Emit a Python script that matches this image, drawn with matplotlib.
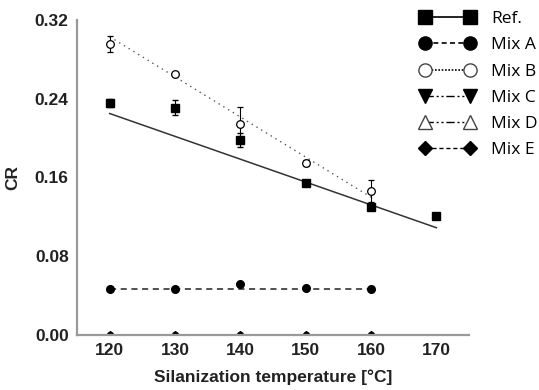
import matplotlib
matplotlib.use("Agg")
import matplotlib.pyplot as plt
from matplotlib.lines import Line2D

temps = [120, 130, 140, 150, 160]
ref_x = [120, 130, 140, 150, 160, 170]
ref_y = [0.236, 0.231, 0.198, 0.154, 0.130, 0.121]
ref_err = [0.004, 0.008, 0.007, 0.002, 0.003, 0.0]
ref_fit_x = [120, 170]
ref_fit_y = [0.225, 0.109]

mixA_y = [0.047, 0.047, 0.052, 0.048, 0.047]
mixA_err = [0.001, 0.001, 0.001, 0.001, 0.001]
mixA_fit_y = [0.047, 0.047]

mixB_y = [0.296, 0.265, 0.2145, 0.1745, 0.146]
mixB_err = [0.008, 0.002, 0.017, 0.003, 0.011]
mixB_fit_y = [0.303, 0.140]

mixC_y = [0, 0, 0, 0, 0]
mixD_y = [0, 0, 0, 0, 0]
mixE_y = [0, 0, 0, 0, 0]

labels = ['Ref.', 'Mix A', 'Mix B', 'Mix C', 'Mix D', 'Mix E']
xticks = [120, 130, 140, 150, 160, 170]
yticks = [0.0, 0.08, 0.16, 0.24, 0.32]
ytick_labels = ['0.00', '0.08', '0.16', '0.24', '0.32']

fig = plt.figure(figsize=(5.39, 3.90), dpi=100)
ax = fig.add_axes([77/539, 1-335/390, (469-77)/539, (335-20)/390])

dashdotdot = (0, (6, 2, 1.5, 2, 1.5, 2))
ms = 5.5
# fit lines
ax.plot(ref_fit_x, ref_fit_y, color='#333333', lw=1.1, zorder=2)
ax.plot([120, 160], mixB_fit_y, color='#555555', lw=1.0, ls=(0, (1, 3)), zorder=2)
ax.plot([120, 160], mixA_fit_y, color='#222222', lw=1.1, ls=(0, (4, 3)), zorder=2)

ax.errorbar(ref_x, ref_y, yerr=ref_err, fmt='s', color='black', ms=ms, capsize=2.5, elinewidth=0.8, zorder=4)
ax.errorbar(temps, mixB_y, yerr=mixB_err, fmt='o', mfc='white', mec='black', color='black', ms=ms, capsize=2.5, elinewidth=0.8, mew=0.9, zorder=4)
ax.errorbar(temps, mixA_y, yerr=mixA_err, fmt='o', color='black', ms=ms, capsize=0, elinewidth=0.8, zorder=4)
ax.plot(temps, mixC_y, 'v', color='black', ms=3.5, zorder=1)
ax.plot(temps, mixD_y, '^', mfc='white', mec='black', ms=4, zorder=1)
ax.plot(temps, mixE_y, 'D', color='black', ms=4.5, zorder=1)

ax.set_xlim(115, 175)
ax.set_ylim(0, 0.32)
ax.set_xticks(xticks)
ax.set_yticks(yticks)
ax.set_yticklabels(ytick_labels)
for s in ['top', 'right']:
    ax.spines[s].set_visible(False)
for s in ['left', 'bottom']:
    ax.spines[s].set_color('#999999')
    ax.spines[s].set_linewidth(1.6)
    ax.spines[s].set_zorder(2.5)
ax.tick_params(length=0, pad=6)
for lab in ax.get_xticklabels() + ax.get_yticklabels():
    lab.set_fontfamily('Liberation Sans')
    lab.set_fontweight('bold')
    lab.set_fontsize(12.5)
    lab.set_color('#222222')
ax.set_xlabel('Silanization temperature [°C]', fontfamily='Liberation Sans', fontweight='bold', fontsize=12.5, labelpad=8, color='#222222')
ax.set_ylabel('CR', fontfamily='Liberation Sans', fontweight='bold', fontsize=12.5, color='#222222')
ax.yaxis.set_label_coords(-0.145, 0.5)

# legend handles
lms = 9.5
handles = [
    Line2D([], [], color='black', marker='s', ms=lms, ls='-', lw=1.2),
    Line2D([], [], color='black', marker='o', ms=lms, ls=(0, (3, 2)), lw=1.2),
    Line2D([], [], color='black', marker='o', mfc='white', mec='#444444', ms=lms, ls=(0, (1, 1)), lw=1.2),
    Line2D([], [], color='black', marker='v', ms=lms, ls=dashdotdot, lw=1.0),
    Line2D([], [], color='black', marker='^', mfc='white', mec='#444444', ms=lms, ls=dashdotdot, lw=1.0),
    Line2D([], [], color='black', marker='D', ms=lms-2, ls=(0, (3, 2)), lw=1.0),
]
fig.legend(handles, labels, loc='upper left', bbox_to_anchor=(420/539, 1-11/390),
           frameon=False, numpoints=2, handlelength=3.18, handletextpad=0.9,
           labelspacing=0.58, borderpad=0, borderaxespad=0,
           prop={'family': 'Open Sans', 'size': 12.5})

fig.savefig('out.png', dpi=100)
